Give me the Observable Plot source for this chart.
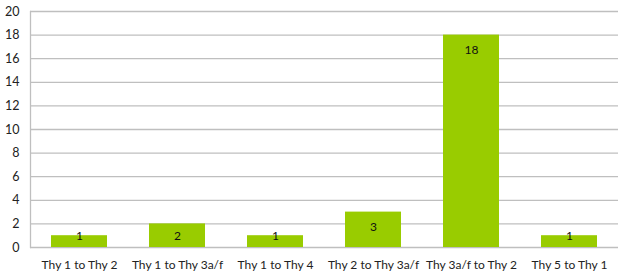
<!DOCTYPE html>
<html>
<head>
<meta charset="utf-8">
<script src="https://cdn.jsdelivr.net/npm/d3@7"></script>
<script src="https://cdn.jsdelivr.net/npm/@observablehq/plot@0.6"></script>
<style>
  html, body { margin: 0; padding: 0; background: #fff; }
  #chart svg { display: block; }
</style>
</head>
<body>
<div id="chart"></div>
<script>
// Transitions between thyroid categories and their counts
const categories = ["Thy 1 to Thy 2", "Thy 1 to Thy 3a/f", "Thy 1 to Thy 4", "Thy 2 to Thy 3a/f", "Thy 3a/f to Thy 2", "Thy 5 to Thy 1"];
const counts = [1, 2, 1, 3, 18, 1];
const yTicks = [0, 2, 4, 6, 8, 10, 12, 14, 16, 18, 20];

const data = categories.map((c, i) => ({category: c, count: counts[i]}));

const font = "Lato, 'Open Sans', sans-serif";
const gridColor = "#bfbfbf";

const chart = Plot.plot({
  width: 628,
  height: 277,
  marginLeft: 30,
  marginRight: 10,
  marginTop: 11,
  marginBottom: 30,
  style: {fontFamily: font, fontSize: "12px", color: "#222", background: "#fff"},
  x: {domain: categories, paddingInner: 0.43, paddingOuter: 0.215, label: null},
  y: {domain: [0, 20], label: null},
  marks: [
    Plot.ruleY(yTicks, {stroke: gridColor, strokeWidth: 1.3}),
    Plot.frame({anchor: "left", stroke: gridColor, strokeWidth: 1.3}),
    Plot.barY(data, {x: "category", y: "count", fill: "#99cc00"}),
    // value labels sit just inside the top of each bar
    Plot.text(data, {
      x: "category",
      y: d => Math.max(d.count - 1.25, 0.95),
      text: d => String(d.count),
      fill: "#111",
      fontSize: 12
    }),
    Plot.axisY(yTicks, {tickSize: 0, tickPadding: 11, fontSize: 12.5}),
    Plot.axisX({tickSize: 0, tickPadding: 13, fontSize: 12})
  ]
});

document.getElementById("chart").appendChild(chart);
</script>
</body>
</html>
